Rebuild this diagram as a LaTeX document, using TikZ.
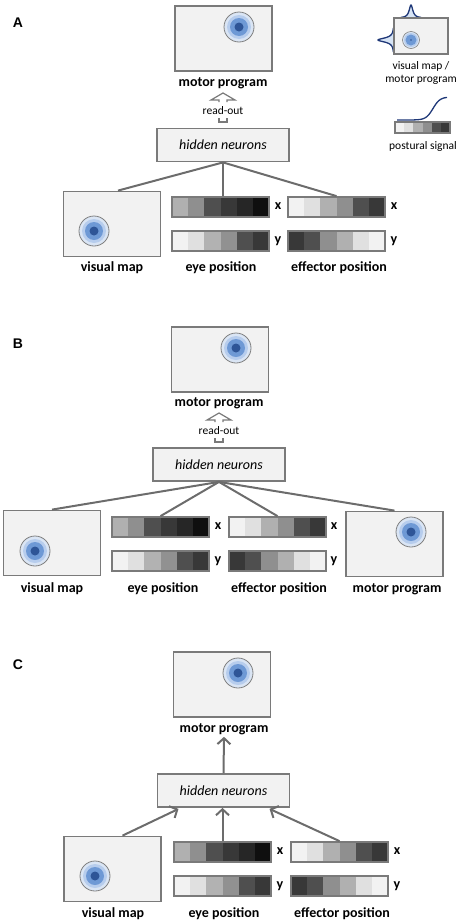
\documentclass[tikz,border=0pt]{standalone}
\usepackage{fontspec}
\setmainfont{Carlito}
\newfontfamily\panelfont{Liberation Sans}
\usetikzlibrary{arrows.meta,calc}
\definecolor{boxfill}{RGB}{242,242,242}
\definecolor{boxline}{RGB}{122,122,122}
\definecolor{linkc}{RGB}{108,108,108}
\definecolor{blobA}{RGB}{46,85,151}
\definecolor{blobB}{RGB}{110,153,213}
\definecolor{blobC}{RGB}{183,205,237}
\definecolor{blobD}{RGB}{218,229,244}
\definecolor{navy}{RGB}{31,56,120}
\newcommand{\labfont}{\fontsize{14}{16}\selectfont\bfseries}
\newcommand{\spot}[1]{%
  \filldraw[fill=blobD,draw=gray,line width=.8pt] (#1) circle (15pt);
  \fill[blobC] (#1) circle (12pt);
  \fill[blobB] (#1) circle (9pt);
  \fill[blobA] (#1) circle (4.5pt);}
\newcommand{\grayrow}[4]{%
  \foreach \g [count=\idx from 0] in {#4}{
    \fill[black!\g] (#2+\idx*16.2,#3) rectangle ++(16.2,20);}
  \node[posbar] (#1) at (#2+48.5,#3+10) {};}
\newcommand{\readout}[3]{%
  \node[note] (#1) at (#2,#3) {read-out};
  \draw[boxline,line width=1.2pt] ($(#1)+(-4,-9)$) -- ++(0,-2) -- ++(-8,0)
    -- ++(12,-7) -- ++(12,7) -- ++(-8,0) -- ++(0,2);
  \draw[boxline,line width=1.2pt] ($(#1)+(-4,7)$) -- ++(0,4) -- ++(8,0) -- ++(0,-4);}

\begin{document}
\begin{tikzpicture}
  [x=1pt, y=-1pt,
   mapbox/.style={draw=boxline, fill=boxfill, line width=1.8pt,
     minimum width=97pt, minimum height=65pt, inner sep=0pt},
   hidbox/.style={mapbox, minimum width=132pt, minimum height=33pt,
     font=\fontsize{14}{16}\selectfont\itshape},
   posbar/.style={draw=boxline, line width=1.8pt, minimum width=97pt,
     minimum height=20pt, inner sep=0pt},
   lab/.style={font=\labfont, inner sep=2pt},
   note/.style={font=\fontsize{11.5}{13}\selectfont, inner sep=1pt},
   panel/.style={font=\panelfont\bfseries\fontsize{14}{16}\selectfont},
   link/.style={draw=linkc, line width=2pt},
   feed/.style={link, -{Straight Barb[length=6pt,width=13pt]}}]
  \useasboundingbox (0,0) rectangle (459,924);

  % ---- A ----
  \node[panel] (pA) at (18,23) {A};
  \node[mapbox] (mpA) at (223.5,38.5) {};
  \spot{239,27}
  \node[lab] (mpAl) at (223,83) {motor program};
  \readout{roA}{223}{111}
  \node[hidbox] (hidA) at (223,145) {hidden neurons};
  \node[mapbox] (vmA) at (112,224) {};
  \spot{94,231}
  \grayrow{eyexA}{172}{197}{31,44,69,78,85,94}
  \grayrow{eyeyA}{172}{231}{5,12,30,43,69,78}
  \grayrow{effxA}{288}{197}{5,12,31,44,69,78}
  \grayrow{effyA}{288}{231}{78,69,44,31,12,5}
  \foreach \name/\x/\y/\txt in {xA1/278/206/x,yA1/278/241/y,xA2/394/206/x,yA2/394/241/y,
      vmAl/112/268/visual map,eyeAl/221/268/eye position,effAl/339/268/effector position}{
    \node[lab] (\name) at (\x,\y) {\txt};}
  \foreach \to/\dx in {vmA/6,eyexA/2.5,effxA/0}{
    \draw[link] (hidA.south) -- ($(\to.north)+(\dx,0)$);}

  % legend
  \filldraw[fill=blobC!55, draw=navy, line width=1.3pt]
    plot[domain=-10:10, samples=61] ({411+\x}, {18-13/(1+((\x)*(\x))/5)});
  \filldraw[fill=blobC!55, draw=navy, line width=1.3pt]
    plot[domain=-12:12, samples=61] ({394-16/(1+((\x)*(\x))/6)}, {40+\x});
  \node[mapbox, minimum width=54pt, minimum height=36pt] (legmap) at (421,36) {};
  \filldraw[fill=blobD,draw=gray,line width=.6pt] (411,40) circle (8.5pt);
  \fill[blobC] (411,40) circle (7pt);
  \fill[blobB] (411,40) circle (5.5pt);
  \fill[blobA] (411,40) circle (.9pt);
  \node[note, align=center] (legmapl) at (421,73) {visual map /\\motor program};
  \draw[navy, line width=1.3pt]
    plot[domain=397:447, samples=45] (\x, {120-11.5*(1+tanh((\x-433)/7))});
  \foreach \g [count=\idx from 0] in {5,12,31,44,69,78}{
    \fill[black!\g] (395+\idx*9.17,122) rectangle ++(9.17,11);}
  \node[posbar, minimum width=55pt, minimum height=11pt, line width=1.4pt] (legbar) at (422.5,127.5) {};
  \node[note] (legbarl) at (423,146) {postural signal};

  % ---- B ----
  \node[panel] (pB) at (18,344) {B};
  \node[mapbox] (mpB) at (220,359.5) {};
  \spot{236,348}
  \node[lab] (mpBl) at (219,403) {motor program};
  \readout{roB}{219}{431}
  \node[hidbox] (hidB) at (219,464.5) {hidden neurons};
  \node[mapbox] (vmB) at (52,543) {};
  \spot{35,551}
  \grayrow{eyexB}{112}{517}{31,44,69,78,85,94}
  \grayrow{eyeyB}{112}{551}{5,12,30,43,69,78}
  \grayrow{effxB}{229}{517}{5,12,31,44,69,78}
  \grayrow{effyB}{229}{551}{78,69,44,31,12,5}
  \node[mapbox] (mprB) at (394.5,544) {};
  \spot{411,532}
  \foreach \name/\x/\y/\txt in {xB1/218/526/x,yB1/218/561/y,xB2/334/526/x,yB2/334/561/y,
      vmBl/52/589/visual map,eyeBl/163/589/eye position,effBl/279/589/effector position,
      mprBl/397/589/motor program}{
    \node[lab] (\name) at (\x,\y) {\txt};}
  \foreach \to in {vmB,eyexB,effxB,mprB}{
    \draw[link] (hidB.south) -- (\to.north);}

  % ---- C ----
  \node[panel] (pC) at (18,665) {C};
  \node[mapbox] (mpC) at (222,684.5) {};
  \spot{238,673}
  \node[lab] (mpCl) at (224,729) {motor program};
  \node[hidbox] (hidC) at (223.5,790.5) {hidden neurons};
  \node[mapbox] (vmC) at (112.5,869) {};
  \spot{95,876}
  \grayrow{eyexC}{174}{842}{31,44,69,78,85,94}
  \grayrow{eyeyC}{174}{876}{5,12,30,43,69,78}
  \grayrow{effxC}{291}{842}{5,12,31,44,69,78}
  \grayrow{effyC}{291}{876}{78,69,44,31,12,5}
  \foreach \name/\x/\y/\txt in {xC1/280/851/x,yC1/280/886/y,xC2/397/851/x,yC2/397/886/y,
      vmCl/113/914/visual map,eyeCl/224/914/eye position,effCl/342/914/effector position}{
    \node[lab] (\name) at (\x,\y) {\txt};}
  \draw[feed] (hidC.north) -- (mpCl.south);
  \draw[feed] ($(vmC.north)+(10,0)$) -- ($(hidC.south)+(-45,1)$);
  \draw[feed] (eyexC.north) -- (eyexC.north |- hidC.south);
  \draw[feed] (effxC.north) -- ($(hidC.south)+(46,1)$);
\end{tikzpicture}
\end{document}
